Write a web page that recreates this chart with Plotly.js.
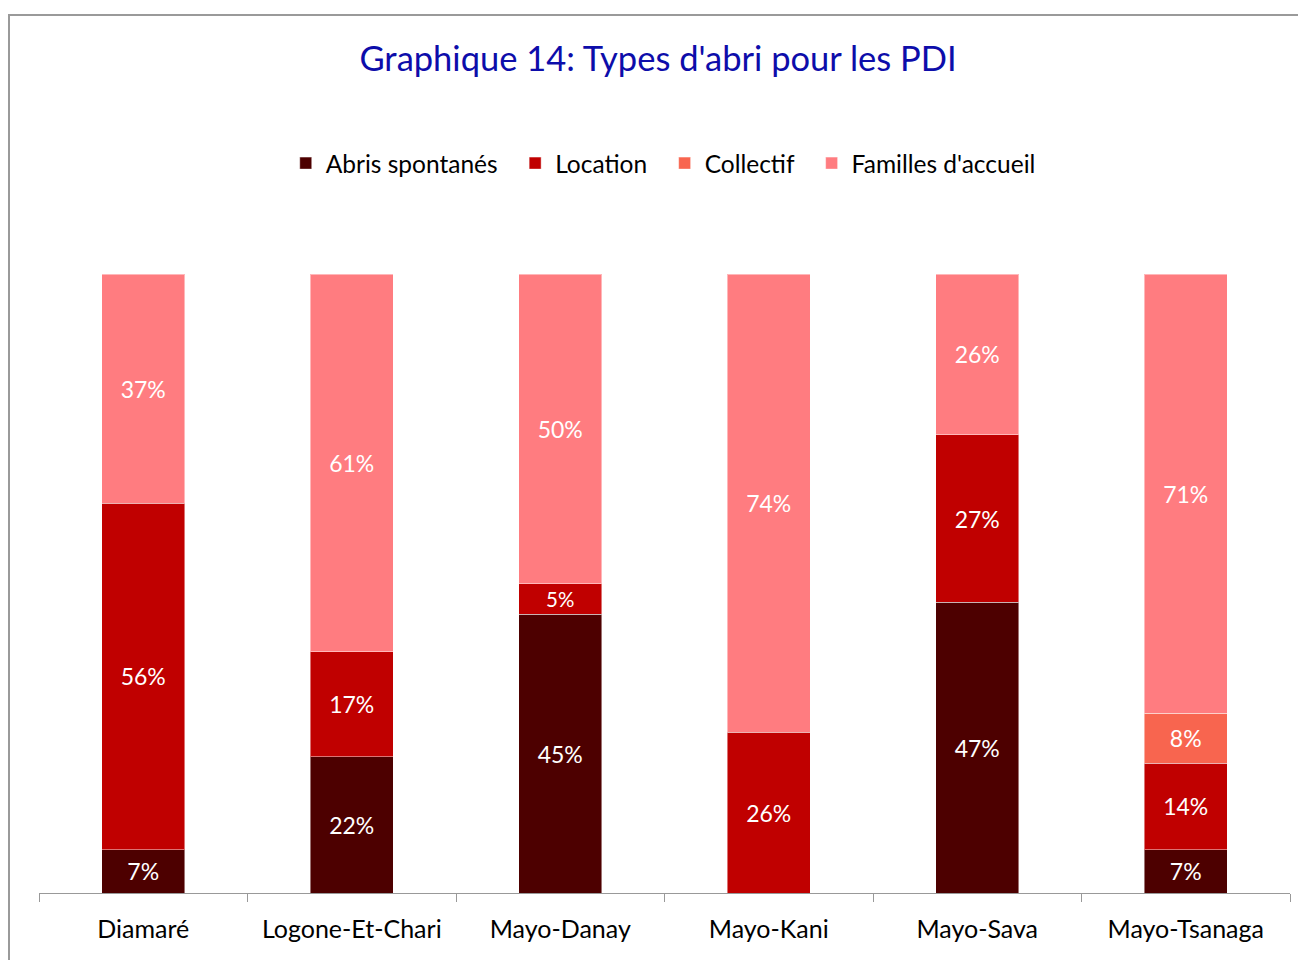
<!DOCTYPE html>
<html>
<head>
<meta charset="utf-8">
<script src="https://cdn.plot.ly/plotly-3.0.1.min.js"></script>
<style>
  body { margin: 0; background: #fff; }
  #frame { position: absolute; left: 8px; top: 14px; width: 1300px; height: 960px;
           border-left: 2px solid #9a9a9a; border-top: 2px solid #9a9a9a; }
  #myPlot { position: absolute; left: 0; top: 0; width: 1298px; height: 960px; }
</style>
</head>
<body>
<div id="frame"></div>
<div id="myPlot"></div>
<script>
// Departements (x categories)
var depts = ["Diamaré", "Logone-Et-Chari", "Mayo-Danay", "Mayo-Kani", "Mayo-Sava", "Mayo-Tsanaga"]

// Share of each shelter type, in percent (null = no segment)
var abrisSpont = [7, 22, 45, null, 47, 7]
var location_ = [56, 17, 5, 26, 27, 14]
var collectif = [null, null, null, null, null, 8]
var famillesAcc = [37, 61, 50, 74, 26, 71]

var seriesNames = ["Abris spontanés", "Location", "Collectif", "Familles d'accueil"]
var seriesColors = ["#4d0000", "#c00000", "#f8654f", "#ff7c80"]
var seriesValues = [abrisSpont, location_, collectif, famillesAcc]

var font = "Lato, 'Open Sans', sans-serif"
var pad = "\u00a0\u00a0"  // a bit more room between legend entries

var data = []
for (var i = 0; i < seriesNames.length; i++) {
  data.push({
    type: "bar",
    x: depts,
    y: seriesValues[i],
    name: seriesNames[i] + (i < seriesNames.length - 1 ? pad : ""),
    marker: {color: seriesColors[i], line: {color: "rgba(255,255,255,0.45)", width: 1}},
    texttemplate: "%{y}%",
    textposition: "inside",
    insidetextanchor: "middle",
    textangle: 0,
    textfont: {color: "#ffffff", size: 23, family: font},
    hoverinfo: "skip"
  })
}

var layout = {
  barmode: "stack",
  bargap: 0.6,
  width: 1298,
  height: 960,
  margin: {l: 39, r: 8, t: 274, b: 67},
  paper_bgcolor: "rgba(0,0,0,0)",
  plot_bgcolor: "rgba(0,0,0,0)",
  font: {family: font, color: "#000000"},
  title: {
    text: "Graphique 14: Types d'abri pour les PDI",
    font: {family: font, size: 34.5, color: "#0d0daa"},
    x: 0.507, xanchor: "center",
    y: 0.939, yanchor: "middle"
  },
  showlegend: true,
  legend: {
    orientation: "h",
    x: 0.499, xanchor: "center",
    y: 1.179, yanchor: "middle",
    font: {size: 24.5, family: font, color: "#000"},
    itemwidth: 30,
    traceorder: "normal"
  },
  xaxis: {
    type: "category",
    showline: true,
    linecolor: "#999999",
    linewidth: 1,
    ticks: "outside",
    tickson: "boundaries",
    ticklen: 8,
    tickcolor: "#999999",
    tickfont: {size: 25, family: font, color: "#000"},
    ticklabelstandoff: 14,
    showgrid: false,
    fixedrange: true
  },
  yaxis: {
    range: [0, 100],
    visible: false,
    showgrid: false,
    zeroline: false,
    fixedrange: true
  }
}

Plotly.newPlot("myPlot", data, layout, {displayModeBar: false, staticPlot: true})
</script>
</body>
</html>
